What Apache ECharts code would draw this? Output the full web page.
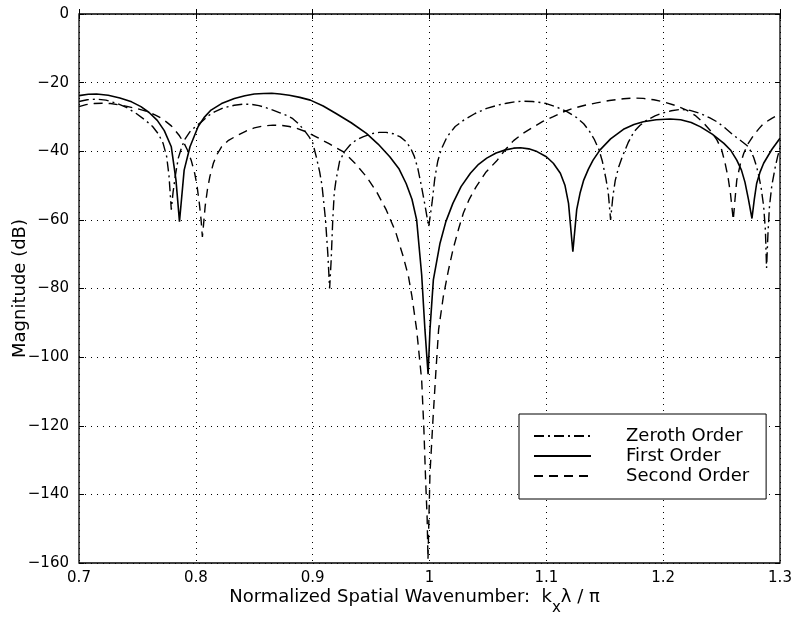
<!DOCTYPE html>
<html>
<head>
<meta charset="utf-8">
<script src="https://cdn.jsdelivr.net/npm/echarts@6/dist/echarts.min.js"></script>
<style>
html,body{margin:0;padding:0;background:#fff;}
#chart{width:793px;height:619px;}
</style>
</head>
<body>
<div id="chart"></div>
<script>
// ---- data ----
const seriesNames = ['Zeroth Order', 'First Order', 'Second Order'];

const zerothX = [0.700,0.707,0.715,0.723,0.732,0.741,0.749,0.757,0.763,0.768,0.772,0.775,0.777,0.779,0.7805,0.7825,0.785,0.788,0.791,0.795,0.800,0.805,0.810,0.816,0.824,0.833,0.840,0.847,0.854,0.860,0.866,0.872,0.878,0.883,0.888,0.893,0.897,0.900,0.903,0.906,0.908,0.911,0.913,0.9145,0.9158,0.9172,0.9185,0.920,0.923,0.927,0.932,0.937,0.943,0.950,0.957,0.963,0.969,0.975,0.980,0.984,0.987,0.990,0.993,0.996,0.9993,1.0022,1.0045,1.007,1.010,1.015,1.022,1.029,1.039,1.049,1.058,1.066,1.073,1.080,1.088,1.095,1.100,1.108,1.118,1.126,1.132,1.137,1.141,1.145,1.148,1.151,1.153,1.155,1.157,1.159,1.162,1.165,1.170,1.175,1.180,1.186,1.193,1.200,1.207,1.215,1.223,1.232,1.240,1.246,1.253,1.260,1.266,1.272,1.275,1.2775,1.280,1.282,1.284,1.286,1.2875,1.2885,1.2897,1.291,1.293,1.296,1.298,1.300];
const zerothY = [-25.5,-25,-24.8,-25.1,-26,-27.3,-29,-31,-32.8,-35,-37.7,-41.5,-47,-57,-52,-47,-42,-38.7,-36.3,-34.3,-32.7,-31.4,-29.8,-28.5,-27.3,-26.6,-26.3,-26.3,-26.7,-27.3,-28,-28.8,-29.6,-30.5,-32,-34,-35.8,-37.5,-41.5,-46,-50,-60,-70,-80,-72,-60,-52,-48.4,-43,-40.2,-38.2,-36.8,-35.8,-34.9,-34.5,-34.5,-34.9,-35.8,-37.2,-39.2,-41.5,-45,-50,-55.5,-62,-55,-48,-43,-39.5,-35.8,-32.8,-31,-29,-27.5,-26.6,-26,-25.6,-25.4,-25.5,-25.8,-26.1,-27,-28.5,-30.2,-32,-34.2,-36.5,-39.5,-43,-48,-52,-60,-53,-48.5,-44.5,-41.6,-37.5,-34.3,-32.5,-30.9,-29.7,-28.8,-28.2,-27.8,-28.1,-29,-30.3,-31.4,-33.2,-35.3,-36.8,-38.4,-40,-41.8,-44.5,-47.4,-51,-56,-63,-74,-64,-56,-50,-44.5,-41.5,-39];

const firstX = [0.700,0.708,0.715,0.725,0.735,0.745,0.753,0.760,0.767,0.773,0.779,0.783,0.786,0.790,0.795,0.802,0.807,0.813,0.822,0.833,0.842,0.850,0.858,0.865,0.872,0.880,0.889,0.898,0.909,0.920,0.933,0.946,0.956,0.966,0.974,0.980,0.985,0.989,0.9933,0.9961,0.9988,1.0004,1.0033,1.009,1.014,1.020,1.027,1.035,1.042,1.049,1.057,1.065,1.072,1.078,1.085,1.092,1.100,1.106,1.112,1.116,1.119,1.1227,1.126,1.129,1.132,1.136,1.140,1.146,1.155,1.166,1.175,1.183,1.194,1.206,1.215,1.224,1.232,1.242,1.252,1.258,1.263,1.267,1.270,1.273,1.276,1.278,1.280,1.283,1.286,1.293,1.300];
const firstY = [-23.8,-23.4,-23.3,-23.7,-24.5,-25.6,-27,-28.7,-31,-34,-38.7,-48.4,-60.5,-45.5,-38.7,-32.8,-30.2,-28,-26.1,-24.6,-23.8,-23.3,-23.15,-23.1,-23.3,-23.7,-24.3,-25.1,-26.8,-29,-31.7,-34.8,-37.9,-41.6,-45.2,-49.4,-54,-60,-76,-92,-105,-92,-77.5,-66.8,-60.5,-55.2,-50.3,-46.4,-43.8,-42,-40.5,-39.6,-39.1,-39,-39.3,-40.1,-41.6,-43.5,-46.4,-50,-55.2,-69.3,-57,-52,-48.4,-45.2,-42.6,-39.6,-36.4,-33.6,-32.2,-31.4,-30.8,-30.6,-30.8,-31.6,-32.9,-35,-37.7,-39.8,-42.6,-45.5,-49,-54,-59.6,-54,-49.4,-46,-43.5,-39.5,-36.2];

const secondX = [0.700,0.706,0.713,0.720,0.727,0.735,0.742,0.750,0.758,0.765,0.770,0.775,0.779,0.782,0.786,0.790,0.793,0.796,0.799,0.801,0.803,0.8045,0.8056,0.8067,0.808,0.810,0.812,0.815,0.818,0.822,0.828,0.836,0.843,0.850,0.858,0.866,0.874,0.880,0.886,0.895,0.903,0.914,0.926,0.936,0.946,0.955,0.963,0.971,0.9776,0.982,0.985,0.989,0.9933,0.9952,0.9967,0.998,0.9987,0.9995,1.0004,1.003,1.0055,1.0078,1.0118,1.016,1.020,1.025,1.029,1.034,1.040,1.048,1.058,1.065,1.072,1.080,1.089,1.097,1.106,1.114,1.123,1.133,1.143,1.154,1.166,1.175,1.183,1.192,1.200,1.210,1.220,1.228,1.235,1.241,1.246,1.250,1.253,1.2555,1.2576,1.260,1.2615,1.263,1.266,1.269,1.273,1.2775,1.282,1.286,1.293,1.300];
const secondY = [-27,-26.4,-26.1,-26,-26.1,-26.5,-27,-27.6,-28.4,-29.4,-30.3,-31.5,-32.6,-33.8,-35.5,-37.7,-39.8,-42.6,-46.4,-50,-55.2,-60,-65,-61,-56,-51,-47.4,-43.5,-41,-38.7,-36.8,-35.3,-34.1,-33.2,-32.6,-32.4,-32.5,-32.8,-33.3,-34.4,-35.8,-37.8,-40.1,-43.4,-47.4,-52,-57.1,-63.5,-70.8,-76.5,-82.4,-92,-106.7,-121,-136,-147,-159,-147,-134,-118,-104,-92,-82.4,-75,-68.8,-62.5,-58,-54,-50.3,-46.2,-42.6,-39.5,-36.9,-34.8,-32.9,-31.3,-29.9,-28.6,-27.5,-26.6,-25.9,-25.2,-24.7,-24.5,-24.6,-25,-25.6,-26.6,-28,-29.7,-31.9,-34.2,-36.7,-39.5,-43.5,-47.5,-52.3,-60,-54,-48.4,-43.8,-40.6,-37.6,-35.3,-33.4,-31.9,-30.4,-29.2];

const xMin = 0.7, xMax = 1.3, xStep = 0.1;
const yMin = -160, yMax = 0, yStep = 20;

// ---- chart ----
const FONT = '"DejaVu Sans", "Liberation Sans", Arial, sans-serif';
const pairs = (xs, ys) => xs.map((x, i) => [x, ys[i]]);
const minus = v => String(v).replace('-', '\u2212');

const baseAxisCommon = {
  axisLine: { show: false },
  axisTick: { show: true, inside: true, length: 5, lineStyle: { color: '#000', width: 1 } },
};

const lineSeries = (name, xs, ys, width, type) => ({
  name, type: 'line', data: pairs(xs, ys),
  showSymbol: false, symbol: 'none', clip: true,
  itemStyle: { color: '#000', opacity: 0 },
  lineStyle: { color: '#000', width, type }
});

const chart = echarts.init(document.getElementById('chart'), null, { renderer: 'canvas' });
chart.setOption({
  animation: false,
  backgroundColor: '#fff',
  textStyle: { fontFamily: FONT, color: '#000' },
  grid: {
    left: 79, right: 13, top: 14, bottom: 56,
    outerBoundsMode: 'none', containLabel: false,
    show: true, borderColor: '#000', borderWidth: 1.3, backgroundColor: 'transparent'
  },
  legend: {
    data: seriesNames,
    orient: 'vertical',
    left: 519, top: 414,
    padding: [12, 17, 13, 14],
    itemWidth: 57, itemHeight: 14, itemGap: 0,
    backgroundColor: '#fff',
    borderColor: '#000', borderWidth: 1,
    borderRadius: 0,
    itemStyle: { opacity: 0 },
    textStyle: { fontFamily: FONT, fontSize: 18, lineHeight: 20, color: '#000', padding: [0, 0, 0, 30] },
  },
  xAxis: [
    Object.assign({}, baseAxisCommon, {
      type: 'value', min: xMin, max: xMax, interval: xStep,
      name: '{a|Normalized Spatial Wavenumber:  k}{s|x}{a|\u03bb / \u03c0}',
      nameLocation: 'middle', nameGap: 25, nameMoveOverlap: false,
      nameTextStyle: {
        verticalAlign: 'top',
        padding: [0, 30, 0, 0],
        rich: {
          a: { fontFamily: FONT, fontSize: 18, color: '#000', lineHeight: 22, verticalAlign: 'top' },
          s: { fontFamily: FONT, fontSize: 15, color: '#000', lineHeight: 40, verticalAlign: 'middle' }
        }
      },
      axisLabel: { fontFamily: FONT, fontSize: 15, color: '#000', margin: 8 },
      splitLine: { show: true, lineStyle: { color: '#000', width: 1, type: [1, 5] } },
    }),
    Object.assign({}, baseAxisCommon, {
      type: 'value', min: xMin, max: xMax, interval: xStep, position: 'top',
      axisLabel: { show: false }, splitLine: { show: false },
    })
  ],
  yAxis: [
    Object.assign({}, baseAxisCommon, {
      type: 'value', min: yMin, max: yMax, interval: yStep,
      name: 'Magnitude (dB)',
      nameLocation: 'middle', nameGap: 59, nameRotate: 90, nameMoveOverlap: false,
      nameTextStyle: { fontFamily: FONT, fontSize: 18, color: '#000', align: 'center', verticalAlign: 'middle' },
      axisLabel: { fontFamily: FONT, fontSize: 15, color: '#000', margin: 10, formatter: v => minus(v) },
      splitLine: { show: true, lineStyle: { color: '#000', width: 1, type: [1, 5] } },
    }),
    Object.assign({}, baseAxisCommon, {
      type: 'value', min: yMin, max: yMax, interval: yStep, position: 'right',
      axisLabel: { show: false }, splitLine: { show: false },
    })
  ],
  series: [
    lineSeries(seriesNames[0], zerothX, zerothY, 1.4, [10, 4, 2, 4]),
    lineSeries(seriesNames[1], firstX, firstY, 1.6, 'solid'),
    lineSeries(seriesNames[2], secondX, secondY, 1.4, [9, 6])
  ]
});
</script>
</body>
</html>
